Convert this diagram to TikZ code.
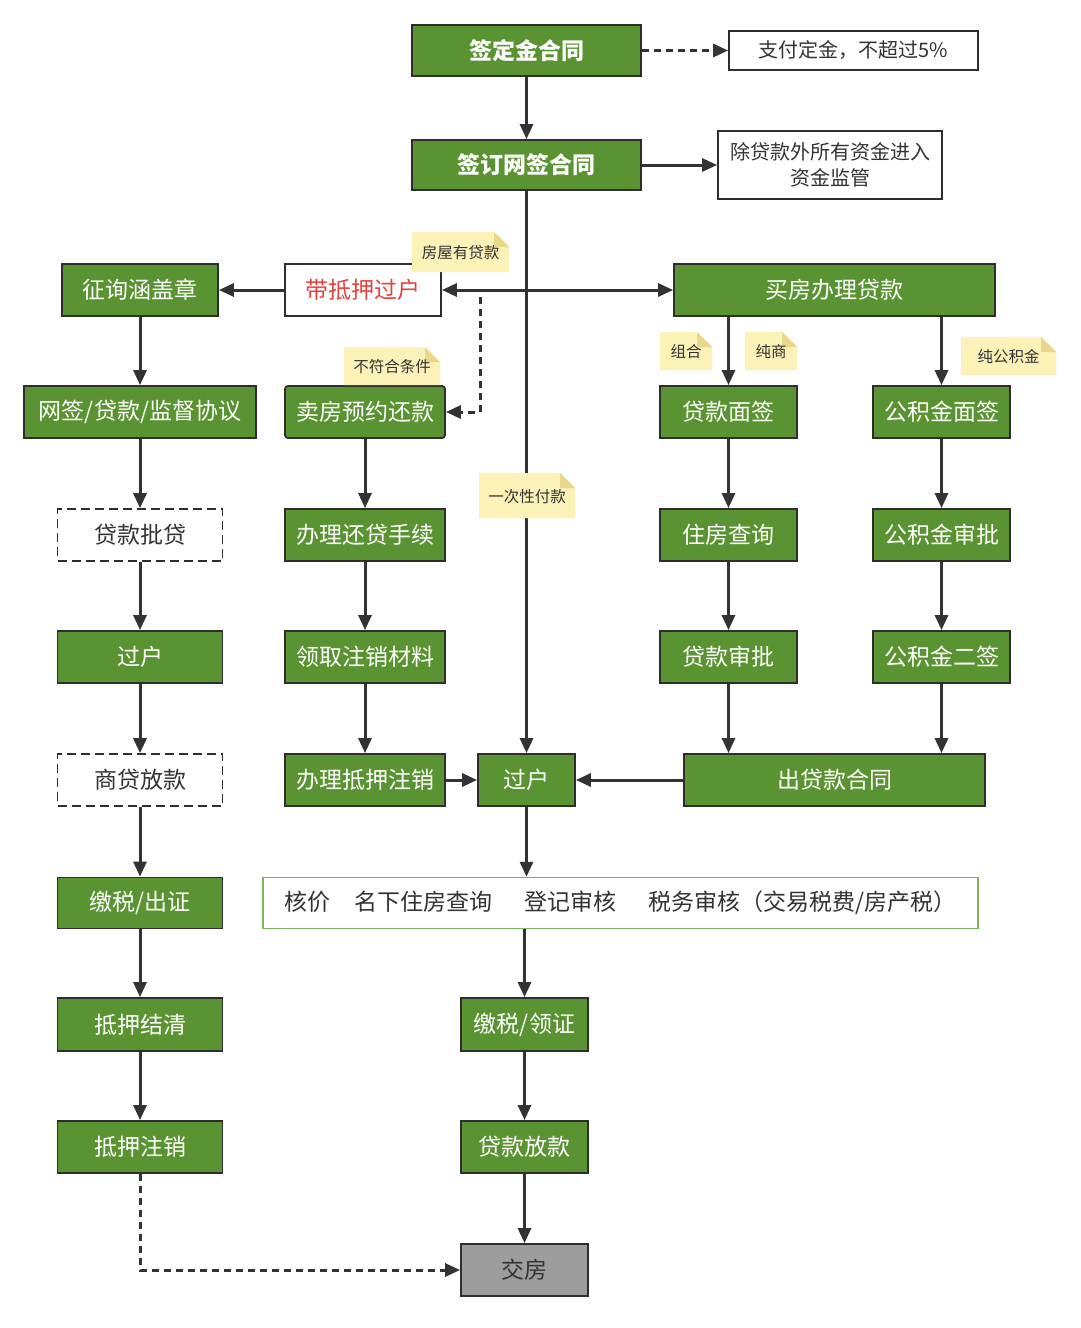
\documentclass[tikz,border=0pt]{standalone}
\usepackage{fontspec}
\setmainfont{Noto Sans CJK SC}
\usetikzlibrary{arrows.meta}
\definecolor{gr}{HTML}{5A9331}
\definecolor{bd}{HTML}{2E2E2E}
\definecolor{ln}{HTML}{333333}
\definecolor{lg}{HTML}{7AB55C}
\definecolor{nf}{HTML}{FCF1B7}
\definecolor{nd}{HTML}{E9D78A}
\definecolor{rd}{HTML}{E8413C}
\definecolor{gy}{HTML}{9D9D9D}
\tikzset{
  gbox/.style={draw=bd, fill=gr, text=white, line width=1.8pt, inner sep=0pt,
    font=\fontsize{23}{27}\selectfont},
  wbox/.style={draw=bd, fill=white, text=ln, line width=1.8pt, inner sep=0pt,
    font=\fontsize{20}{26}\selectfont, align=center},
  dbox/.style={draw=bd, fill=white, text=ln, line width=1.6pt, inner sep=0pt,
    dash pattern=on 9pt off 5pt, font=\fontsize{23}{27}\selectfont},
  notetext/.style={text=ln, inner sep=0pt, font=\fontsize{15.5}{18}\selectfont},
  arr/.style={draw=ln, line width=3pt, -{Triangle[length=15pt,width=13pt]}},
  dsh/.style={dash pattern=on 7pt off 5pt}
}
\newcommand\mynote[5]{%
  \coordinate (#1-c) at (#2);
  \fill[nf] ([xshift=-#3/2,yshift=#4/2]#1-c) -- ([xshift=#3/2-15pt,yshift=#4/2]#1-c)
     -- ([xshift=#3/2,yshift=#4/2-15pt]#1-c) -- ([xshift=#3/2,yshift=-#4/2]#1-c)
     -- ([xshift=-#3/2,yshift=-#4/2]#1-c) -- cycle;
  \fill[nd] ([xshift=#3/2-15pt,yshift=#4/2]#1-c) -- ([xshift=#3/2,yshift=#4/2-15pt]#1-c)
     -- ([xshift=#3/2-15pt,yshift=#4/2-15pt]#1-c) -- cycle;
  \node[notetext] (#1) at ([yshift=-1pt]#1-c) {#5};
}
\begin{document}
\begin{tikzpicture}[x=1pt,y=-1pt]
\useasboundingbox[fill=white] (0,0) rectangle (1080,1328);

% top
\node[gbox, minimum width=229pt, minimum height=51pt, font=\fontsize{23}{27}\selectfont\bfseries] (a1) at (526.5,50.5) {签定金合同};
\node[wbox, minimum width=249pt, minimum height=39pt] (a2) at (853.5,50.5) {支付定金，不超过5\%};
\node[gbox, minimum width=229pt, minimum height=50pt, font=\fontsize{23}{27}\selectfont\bfseries] (a3) at (526.5,165) {签订网签合同};
\node[wbox, minimum width=224pt, minimum height=68pt] (a4) at (830,165) {除贷款外所有资金进入\\资金监管};

% row b
\node[gbox, minimum width=156pt, minimum height=52pt] (b1) at (140,290) {征询涵盖章};
\node[wbox, minimum width=156pt, minimum height=52pt, text=rd, font=\fontsize{23}{27}\selectfont] (b2) at (363,290) {带抵押过户};
\node[gbox, minimum width=321pt, minimum height=52pt] (b3) at (834.5,290) {买房办理贷款};

% row c
\node[gbox, minimum width=232pt, minimum height=52pt] (c1) at (140,412) {网签/贷款/监督协议};
\node[gbox, minimum width=160pt, minimum height=52pt, rounded corners=3pt] (c2) at (365,412) {卖房预约还款};
\node[gbox, minimum width=137pt, minimum height=52pt] (c3) at (728.5,412) {贷款面签};
\node[gbox, minimum width=137pt, minimum height=52pt] (c4) at (941.5,412) {公积金面签};

% row d
\node[dbox, minimum width=165pt, minimum height=52pt] (d1) at (140,535) {贷款批贷};
\node[gbox, minimum width=160pt, minimum height=52pt] (d2) at (365,535) {办理还贷手续};
\node[gbox, minimum width=137pt, minimum height=52pt] (d3) at (728.5,535) {住房查询};
\node[gbox, minimum width=137pt, minimum height=52pt] (d4) at (941.5,535) {公积金审批};

% row e
\node[gbox, minimum width=165pt, minimum height=52pt] (e1) at (140,657) {过户};
\node[gbox, minimum width=160pt, minimum height=52pt] (e2) at (365,657) {领取注销材料};
\node[gbox, minimum width=137pt, minimum height=52pt] (e3) at (728.5,657) {贷款审批};
\node[gbox, minimum width=137pt, minimum height=52pt] (e4) at (941.5,657) {公积金二签};

% row f
\node[dbox, minimum width=165pt, minimum height=52pt] (f1) at (140,780) {商贷放款};
\node[gbox, minimum width=160pt, minimum height=52pt] (f2) at (365,780) {办理抵押注销};
\node[gbox, minimum width=97pt, minimum height=52pt] (f3) at (526.5,780) {过户};
\node[gbox, minimum width=301pt, minimum height=52pt] (f4) at (834.5,780) {出贷款合同};

% row g
\node[gbox, minimum width=165pt, minimum height=51pt] (g1) at (140,903) {缴税/出证};
\node[draw=lg, fill=white, text=ln, line width=1.5pt, minimum width=715pt, minimum height=51pt, inner sep=0pt,
  font=\fontsize{23}{27}\selectfont] (g2) at (620.5,903)
  {核价\hspace{24pt}名下住房查询\hspace{32pt}登记审核\hspace{32pt}税务审核（交易税费/房产税）\hspace{12pt}};

% rows h, i, j
\node[gbox, minimum width=165pt, minimum height=53pt] (h1) at (140,1024.5) {抵押结清};
\node[gbox, minimum width=127pt, minimum height=53pt] (h2) at (524.5,1024.5) {缴税/领证};
\node[gbox, minimum width=165pt, minimum height=52pt] (i1) at (140,1147) {抵押注销};
\node[gbox, minimum width=127pt, minimum height=52pt] (i2) at (524.5,1147) {贷款放款};
\node[gbox, fill=gy, text=ln, minimum width=127pt, minimum height=52pt] (j) at (524.5,1270) {交房};

% connectors
\draw[arr] (a1) -- (a3);
\draw[arr, dsh] (a1) -- (a2);
\draw[arr] (a3) -- (a4);
\draw[arr] (a3.south) -- (f3.north);
\draw[arr] (a3.south |- b2.east) -- (b2.east);
\draw[arr] (a3.south |- b3.west) -- (b3.west);
\draw[arr] (b2.west) -- (b1.east);
\coordinate (ds) at (480,297);
\draw[arr, dsh] (ds) |- (c2.east);

\draw[arr] (b1) -- (c1);
\draw[arr] (c1) -- (d1);
\draw[arr] (d1) -- (e1);
\draw[arr] (e1) -- (f1);
\draw[arr] (f1) -- (g1);
\draw[arr] (g1) -- (h1);
\draw[arr] (h1) -- (i1);
\draw[arr, dsh] (i1.south) |- (j.west);

\draw[arr] (c2) -- (d2);
\draw[arr] (d2) -- (e2);
\draw[arr] (e2) -- (f2);
\draw[arr] (f2) -- (f3);

\draw[arr] (c3.north |- b3.south) -- (c3.north);
\draw[arr] (c4.north |- b3.south) -- (c4.north);
\draw[arr] (c3) -- (d3);
\draw[arr] (d3) -- (e3);
\draw[arr] (e3.south) -- (e3.south |- f4.north);
\draw[arr] (c4) -- (d4);
\draw[arr] (d4) -- (e4);
\draw[arr] (e4.south) -- (e4.south |- f4.north);
\draw[arr] (f4) -- (f3);

\draw[arr] (f3.south) -- (f3.south |- g2.north);
\draw[arr] (h2.north |- g2.south) -- (h2.north);
\draw[arr] (h2) -- (i2);
\draw[arr] (i2) -- (j);

% notes
\mynote{n1}{460.5,252}{97pt}{40pt}{房屋有贷款}
\mynote{n2}{686,351}{52pt}{38pt}{组合}
\mynote{n3}{771,351}{52pt}{38pt}{纯商}
\mynote{n4}{1008.5,356}{95pt}{38pt}{纯公积金}
\mynote{n5}{392,366}{96pt}{38pt}{不符合条件}
\mynote{n6}{527,495.5}{96pt}{45pt}{一次性付款}
\end{tikzpicture}
\end{document}
